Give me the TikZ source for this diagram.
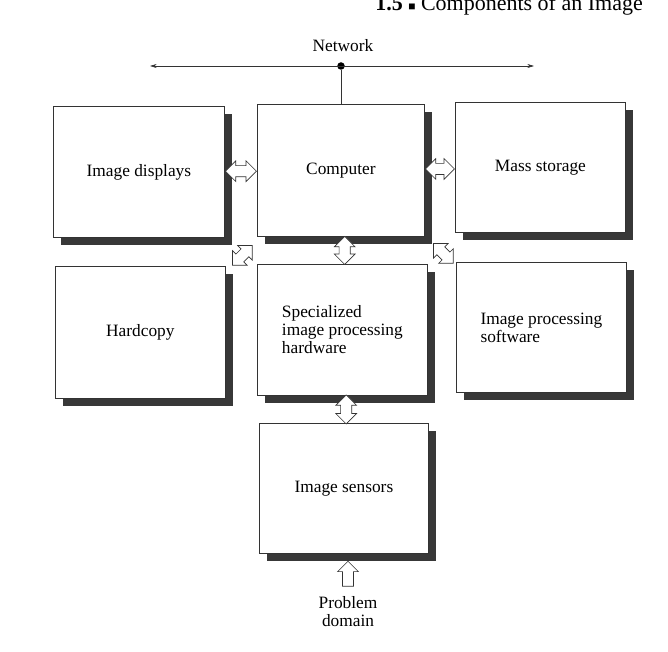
\documentclass[tikz,border=0pt]{standalone}
\usepackage{fontspec}
\setmainfont{Liberation Serif}
\usetikzlibrary{shapes.arrows,shadows,calc,arrows.meta}
\begin{document}
\begin{tikzpicture}[x=0.75pt,y=-0.75pt,
  lbl/.style={font=\fontsize{13}{13.5}\selectfont, align=center},
  box/.style={draw=black!80, line width=0.6pt, fill=white, anchor=north west,
    inner sep=0pt, align=left, font=\fontsize{13}{13.5}\selectfont,
    drop shadow={shadow xshift=5.5pt, shadow yshift=-5.5pt, fill=black!78, opacity=1}},
  dblarrow/.style={double arrow, draw=black!80, line width=0.5pt, fill=white,
    inner xsep=0pt, inner ysep=3.9pt, double arrow head extend=3.6pt,
    minimum height=#1},
  sglarrow/.style={single arrow, draw=black!80, line width=0.5pt, fill=white,
    inner xsep=0pt, inner ysep=3.9pt, single arrow head extend=3.6pt,
    minimum height=#1},
  netline/.style={draw=black!80, line width=0.5pt}
]
\useasboundingbox (0,0) rectangle (668,652);

% header (cut off at the top of the page, as in the scan)
\node[anchor=base west, inner sep=0pt, font=\fontsize{16.5}{16.5}\selectfont] (hdr) at (375,11)
  {\textbf{1.5} {\fontsize{9}{9}\selectfont ■} Components of an Image};

% boxes
\node[box, minimum width=171*0.75pt, minimum height=131*0.75pt] (disp) at (53,106) {Image displays};
\node[box, minimum width=167*0.75pt, minimum height=132*0.75pt] (comp) at (257,104) {Computer};
\node[box, minimum width=170*0.75pt, minimum height=130*0.75pt] (mass) at (455,102) {Mass storage};
\node[box, minimum width=170*0.75pt, minimum height=132*0.75pt] (hard) at (55,266) {Hardcopy};
\node[box, minimum width=170*0.75pt, minimum height=131*0.75pt] (spec) at (257,264) {Specialized\\image processing\\hardware};
\node[box, minimum width=170*0.75pt, minimum height=130*0.75pt] (soft) at (456,262) {Image processing\\software};
\node[box, minimum width=169*0.75pt, minimum height=130*0.75pt] (sens) at (259,423) {Image sensors};

% network
\node[lbl] (net) at (343,46) {Network};
\coordinate (netL) at (150,66);
\coordinate (netR) at (534,66);
\node[circle, fill=black, inner sep=0pt, minimum size=7.5*0.75pt] (dot) at (341,66) {};
\draw[netline, {Stealth[length=5pt,width=3pt]}-{Stealth[length=5pt,width=3pt]}] (netL) -- (netR);
\draw[netline] (dot) -- (dot |- comp.north);

% double arrows
\node[dblarrow=31*0.75pt] (a1) at ($(disp.east)!0.5!(comp.west)$) {};
\node[dblarrow=29*0.75pt] (a2) at ($(comp.east)!0.5!(mass.west)$) {};
\node[dblarrow=28*0.75pt, rotate=90] (a3) at ($(comp.south)!0.5!(spec.north)+(3,0)$) {};
\node[dblarrow=29*0.75pt, rotate=90] (a4) at ($(spec.south)!0.5!(sens.north)+(3,0)$) {};
\node[dblarrow=28*0.75pt, rotate=45] (a5) at ($(comp.south west)!0.5!(hard.north east)+(1,4)$) {};
\node[dblarrow=28*0.75pt, rotate=-45] (a6) at ($(comp.south east)!0.5!(soft.north west)+(3,4)$) {};

% problem domain
\node[lbl] (pd) at (348,612) {Problem\\domain};
\node[sglarrow=25*0.75pt, rotate=90, anchor=tip] (pa) at ($(pd.north |- sens.south)+(0,7)$) {};
\end{tikzpicture}
\end{document}
